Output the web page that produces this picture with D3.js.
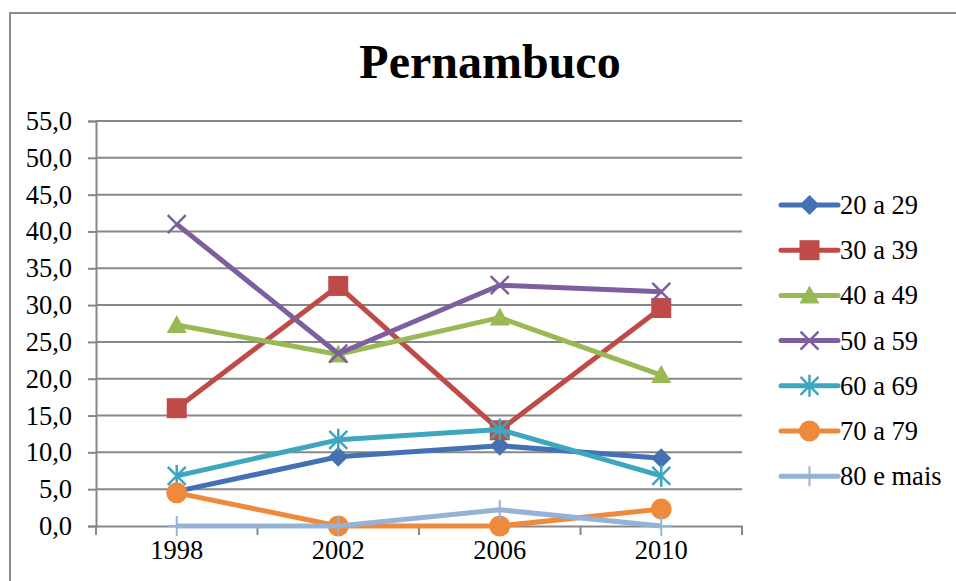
<!DOCTYPE html>
<html>
<head>
<meta charset="utf-8">
<script src="https://cdn.jsdelivr.net/npm/d3@7"></script>
<style>
  body { margin: 0; background: #fff; }
  text { font-family: "Liberation Serif", serif !important; }
</style>
</head>
<body>
<svg id="chart" width="956" height="581"></svg>
<script>
// dados
const anos = ["1998", "2002", "2006", "2010"];
const faixas = ["20 a 29", "30 a 39", "40 a 49", "50 a 59", "60 a 69", "70 a 79", "80 e mais"];
const v20 = [4.7, 9.4, 10.9, 9.2];
const v30 = [16.0, 32.6, 13.0, 29.6];
const v40 = [27.3, 23.3, 28.3, 20.5];
const v50 = [41.0, 23.4, 32.7, 31.8];
const v60 = [6.8, 11.7, 13.1, 6.8];
const v70 = [4.5, 0.0, 0.0, 2.3];
const v80 = [0.0, 0.0, 2.2, 0.0];
const yTicks = [0, 5, 10, 15, 20, 25, 30, 35, 40, 45, 50, 55];

const series = [
  { nome: faixas[0], valores: v20, cor: "#4471B4", marker: "diamond" },
  { nome: faixas[1], valores: v30, cor: "#BE4B48", marker: "square" },
  { nome: faixas[2], valores: v40, cor: "#98B954", marker: "triangle" },
  { nome: faixas[3], valores: v50, cor: "#7D5FA0", marker: "x" },
  { nome: faixas[4], valores: v60, cor: "#3FA6BF", marker: "star" },
  { nome: faixas[5], valores: v70, cor: "#EE8A3C", marker: "circle" },
  { nome: faixas[6], valores: v80, cor: "#95B3D7", marker: "plus" }
];

const svg = d3.select("#chart");
const gridCor = "#878787";
const fs = 26.5;

// moldura
svg.append("rect")
  .attr("x", 10).attr("y", 13)
  .attr("width", 960).attr("height", 600)
  .attr("fill", "#fff")
  .attr("stroke", "#8c8c8c").attr("stroke-width", 2);

// titulo
svg.append("text")
  .attr("x", 490).attr("y", 78)
  .attr("text-anchor", "middle")
  .attr("font-size", 48).attr("font-weight", "bold")
  .text("Pernambuco");

const x = d3.scaleBand().domain(anos).range([96, 742]);
const y = d3.scaleLinear().domain([0, 55]).range([526, 121]);
const cx = d => x(d) + x.bandwidth() / 2;

// grade
svg.append("g")
  .selectAll("line")
  .data(yTicks.filter(d => d > 0))
  .join("line")
  .attr("x1", 96).attr("x2", 742)
  .attr("y1", d => y(d)).attr("y2", d => y(d))
  .attr("stroke", gridCor).attr("stroke-width", 2);

// eixo y
const yAxis = svg.append("g")
  .attr("transform", "translate(96,0)")
  .call(d3.axisLeft(y).tickValues(yTicks).tickSize(8).tickPadding(16)
    .tickFormat(d => d3.format(".1f")(d).replace(".", ",")));
yAxis.select(".domain").attr("stroke", gridCor).attr("stroke-width", 2);
yAxis.selectAll(".tick line").attr("stroke", gridCor).attr("stroke-width", 2);
yAxis.selectAll("text").attr("font-size", fs).attr("fill", "#000");

// eixo x
const xAxis = svg.append("g")
  .attr("transform", "translate(0,526)")
  .call(d3.axisBottom(x).tickSize(0).tickPadding(14));
xAxis.select(".domain").attr("stroke", gridCor).attr("stroke-width", 2);
xAxis.selectAll("text").attr("font-size", fs).attr("fill", "#000");
svg.append("g")
  .selectAll("line")
  .data(anos.map(d => x(d)).concat([x.range()[1]]))
  .join("line")
  .attr("x1", d => d).attr("x2", d => d)
  .attr("y1", 526).attr("y2", 535)
  .attr("stroke", gridCor).attr("stroke-width", 2);

// marcadores
function desenhaMarcador(g, tipo, cor) {
  if (tipo === "diamond") {
    g.append("path").attr("d", "M0,-10L10,0L0,10L-10,0Z").attr("fill", cor);
  } else if (tipo === "square") {
    g.append("rect").attr("x", -10).attr("y", -10).attr("width", 20).attr("height", 20).attr("fill", cor);
  } else if (tipo === "triangle") {
    g.append("path").attr("d", "M0,-10L10,8L-10,8Z").attr("fill", cor);
  } else if (tipo === "x") {
    g.append("path").attr("d", "M-9,-9L9,9M-9,9L9,-9").attr("stroke", cor).attr("stroke-width", 2.5);
  } else if (tipo === "star") {
    g.append("path").attr("d", "M-9,-9L9,9M-9,9L9,-9M0,-11L0,11").attr("stroke", cor).attr("stroke-width", 2.5);
  } else if (tipo === "circle") {
    g.append("circle").attr("r", 10.5).attr("fill", cor);
  } else if (tipo === "plus") {
    g.append("path").attr("d", "M0,-10L0,10M-10,0L10,0").attr("stroke", cor).attr("stroke-width", 2);
  }
}

const line = d3.line().x((d, i) => cx(anos[i])).y(d => y(d));

series.forEach(s => {
  const g = svg.append("g");
  g.append("path")
    .datum(s.valores)
    .attr("d", line)
    .attr("fill", "none")
    .attr("stroke", s.cor)
    .attr("stroke-width", 5)
    .attr("stroke-linejoin", "round");
  g.selectAll("g.m")
    .data(s.valores)
    .join("g")
    .attr("class", "m")
    .attr("transform", (d, i) => `translate(${cx(anos[i])},${y(d)})`)
    .each(function() { desenhaMarcador(d3.select(this), s.marker, s.cor); });
});

// legenda
const leg = svg.append("g")
  .selectAll("g")
  .data(series)
  .join("g")
  .attr("transform", (d, i) => `translate(781,${205 + i * 45.2})`);
leg.append("line")
  .attr("x1", 0).attr("x2", 57)
  .attr("stroke", d => d.cor).attr("stroke-width", 5)
  .attr("stroke-linecap", "round");
leg.append("g")
  .attr("transform", "translate(28.5,0)")
  .each(function(d) { desenhaMarcador(d3.select(this), d.marker, d.cor); });
leg.append("text")
  .attr("x", 59).attr("y", 9)
  .attr("font-size", fs)
  .text(d => d.nome);
</script>
</body>
</html>
